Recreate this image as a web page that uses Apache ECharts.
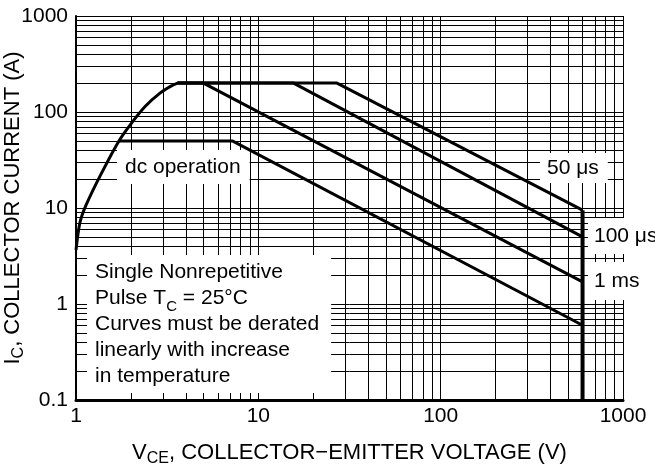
<!DOCTYPE html>
<html>
<head>
<meta charset="utf-8">
<script src="https://cdn.jsdelivr.net/npm/echarts@6/dist/echarts.min.js"></script>
<style>
	html, body { margin: 0; padding: 0; background: #fff; }
	#soa { width: 655px; height: 468px; }
</style>
</head>
<body>
<div id="soa"></div>
<script>
// safe operating area
const boundaryV = [1, 1.052, 1.135, 1.354, 1.72, 2.05, 2.4, 2.9, 3.3, 3.6];
const boundaryI = [3.65, 7.1, 10.7, 21.5, 50, 80, 115, 158, 185, 200];

const dcV = [1.72, 7.2, 600];
const dcI = [50, 50, 0.6];

const ms1V = [3.6, 5, 600];
const ms1I = [200, 200, 1.7];

const us100V = [3.6, 15.6, 600];
const us100I = [200, 200, 5.0];

const us50V = [3.6, 27, 600];
const us50I = [200, 200, 9.5];

const maxVceV = [600, 600];
const maxVceI = [0.1, 9.5];

// minor grid values (2..9 of every decade)
const xMinor = [2, 3, 4, 5, 6, 7, 8, 9, 20, 30, 40, 50, 60, 70, 80, 90, 200, 300, 400, 500, 600, 700, 800, 900];
const yMinor = [0.2, 0.3, 0.4, 0.5, 0.6, 0.7, 0.8, 0.9, 2, 3, 4, 5, 6, 7, 8, 9, 20, 30, 40, 50, 60, 70, 80, 90, 200, 300, 400, 500, 600, 700, 800, 900];

const xTickLabels = { 1: '1', 10: '10', 100: '100', 1000: '1000' };
const yTickLabels = { 0.1: '0.1', 1: '1', 10: '10', 100: '100', 1000: '1000' };

const fontFam = '"Liberation Sans", Arial, sans-serif';

function zip(xs, ys) {
	return xs.map((x, i) => [x, ys[i]]);
}

function curve(name, xs, ys, width, smooth) {
	return {
		name: name,
		type: 'line',
		z: 10,
		symbol: 'none',
		silent: true,
		smooth: smooth || false,
		lineStyle: { color: '#000', width: width },
		data: zip(xs, ys),
	};
}

let gridLines = [];
xMinor.forEach((v) => gridLines.push({ xAxis: v }));
yMinor.forEach((v) => gridLines.push({ yAxis: v }));

var chart = echarts.init(document.getElementById('soa'), null, { renderer: 'canvas' });

var subStyle = { fontSize: 16, fontFamily: fontFam, color: '#000', height: 10, verticalAlign: 'bottom' };

var option = {
	animation: false,
	backgroundColor: '#fff',
	textStyle: { fontFamily: fontFam },
	grid: { left: 76, right: 32, top: 16, bottom: 68, containLabel: false, outerBoundsMode: 'none' },
	xAxis: {
		type: 'log',
		logBase: 10,
		min: 1,
		max: 1000,
		name: 'V{sub|CE}, COLLECTOR\u2212EMITTER VOLTAGE (V)',
		nameLocation: 'middle',
		nameGap: 42,
		nameMoveOverlap: false,
		nameTextStyle: {
			color: '#000',
			fontSize: 22,
			fontFamily: fontFam,
			rich: { sub: subStyle },
		},
		axisLine: { show: true, lineStyle: { color: '#000', width: 3 } },
		axisTick: { show: false },
		axisLabel: {
			color: '#000',
			fontSize: 21,
			fontFamily: fontFam,
			margin: 6,
			formatter: (v) => xTickLabels[v] || '',
		},
		splitLine: { show: true, lineStyle: { color: '#000', width: 1 } },
	},
	yAxis: {
		type: 'log',
		logBase: 10,
		min: 0.1,
		max: 1000,
		name: 'I{sub|C}, COLLECTOR CURRENT (A)',
		nameLocation: 'middle',
		nameGap: 52,
		nameMoveOverlap: false,
		nameTextStyle: {
			color: '#000',
			fontSize: 22,
			fontFamily: fontFam,
			rich: { sub: subStyle },
		},
		axisLine: { show: true, lineStyle: { color: '#000', width: 2 } },
		axisTick: { show: false },
		axisLabel: {
			color: '#000',
			fontSize: 21,
			fontFamily: fontFam,
			margin: 8,
			formatter: (v) => yTickLabels[v] || '',
		},
		splitLine: { show: true, lineStyle: { color: '#000', width: 1 } },
	},
	series: [
		{
			name: 'grid',
			type: 'line',
			data: [],
			silent: true,
			markLine: {
				z: 1,
				silent: true,
				symbol: ['none', 'none'],
				label: { show: false },
				lineStyle: { color: '#000', width: 1, type: 'solid' },
				emphasis: { disabled: true },
				data: gridLines,
			},
		},
		curve('boundary', boundaryV, boundaryI, 3, 0.3),
		curve('dc', dcV, dcI, 3),
		curve('1 ms', ms1V, ms1I, 3),
		curve('100 us', us100V, us100I, 3),
		curve('50 us', us50V, us50I, 3),
		curve('600 V', maxVceV, maxVceI, 4),
	],
	graphic: [
		{
			type: 'text', z: 5, x: 117, y: 150,
			style: {
				text: 'dc operation', fill: '#000', fontSize: 21, fontFamily: fontFam,
				backgroundColor: '#fff', padding: [5, 9, 5, 8], lineHeight: 24,
			},
		},
		{
			type: 'text', z: 5, x: 540, y: 153,
			style: {
				text: '50 \u03bcs', fill: '#000', fontSize: 21, fontFamily: fontFam,
				backgroundColor: '#fff', padding: [3, 9, 3, 7], lineHeight: 24,
			},
		},
		{
			type: 'text', z: 5, x: 588, y: 218,
			style: {
				text: '100 \u03bcs', fill: '#000', fontSize: 21, fontFamily: fontFam,
				backgroundColor: '#fff', padding: [6, 20, 6, 6], lineHeight: 24,
			},
		},
		{
			type: 'text', z: 5, x: 588, y: 262,
			style: {
				text: '1 ms', fill: '#000', fontSize: 21, fontFamily: fontFam,
				backgroundColor: '#fff', padding: [7, 20, 7, 6], lineHeight: 24,
			},
		},
		{
			type: 'text', z: 5, x: 87, y: 255,
			style: {
				text: 'Single Nonrepetitive\nPulse T{sub|C} = 25\u00b0C\nCurves must be derated\nlinearly with increase\nin temperature',
				fill: '#000', fontSize: 21, fontFamily: fontFam,
				backgroundColor: '#fff', padding: [4, 12, 4, 8], lineHeight: 26,
				rich: {
					sub: { fontSize: 15, fontFamily: fontFam, fill: '#000', height: 8, verticalAlign: 'bottom' },
				},
			},
		},
	],
};

option && chart.setOption(option);
</script>
</body>
</html>
